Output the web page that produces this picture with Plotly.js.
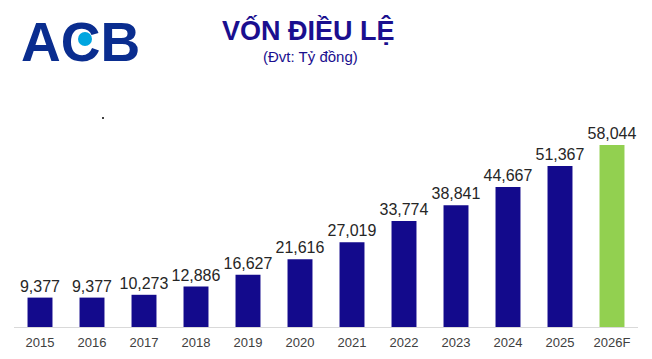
<!DOCTYPE html>
<html><head><meta charset="utf-8">
<script src="https://cdn.plot.ly/plotly-3.0.1.min.js"></script>
<style>html,body{margin:0;padding:0;background:#fff}#c{width:652px;height:359px}</style>
</head><body><div id="c"></div>
<script>
const years = ["2015","2016","2017","2018","2019","2020","2021","2022","2023","2024","2025","2026F"];
const capital = [9377,9377,10273,12886,16627,21616,27019,33774,38841,44667,51367,58044];
const barColors = ["#130a8c","#130a8c","#130a8c","#130a8c","#130a8c","#130a8c","#130a8c","#130a8c","#130a8c","#130a8c","#130a8c","#92d050"];
const labels = capital.map(v => v.toLocaleString("en-US"));

const trace = {
  type: "bar", x: years, y: capital,
  marker: {color: barColors},
  text: labels, textposition: "outside", cliponaxis: false, constraintext: "none",
  textfont: {family: "Liberation Sans, Arial, sans-serif", size: 16, color: "#262626"},
  hoverinfo: "none"
};
const py = v => (359 - v - 32) / 227;
const px = v => (v - 14) / 624;
const layout = {
  width: 652, height: 359,
  margin: {l: 14, r: 14, t: 100, b: 32},
  paper_bgcolor: "#fff", plot_bgcolor: "#fff",
  bargap: 0.52, showlegend: false,
  xaxis: {type: "category", showline: true, linecolor: "#d9d9d9", linewidth: 1, ticks: "",
    ticklabelstandoff: 3,
    tickfont: {family: "Liberation Sans, Arial, sans-serif", size: 13, color: "#404040"}, fixedrange: true},
  yaxis: {range: [0, 72400], visible: false, showgrid: false, zeroline: false, fixedrange: true},
  annotations: [
    {xref: "paper", yref: "paper", x: px(308), y: py(30), xanchor: "center", yanchor: "middle",
     text: "<b>VỐN ĐIỀU LỆ</b>", showarrow: false,
     font: {family: "Liberation Sans, Arial, sans-serif", size: 27, color: "#1a0f8f"}},
    {xref: "paper", yref: "paper", x: px(310), y: py(56), xanchor: "center", yanchor: "middle",
     text: "(Đvt: Tỷ đồng)", showarrow: false,
     font: {family: "Liberation Sans, Arial, sans-serif", size: 15, color: "#1a0f8f"}},
    {xref: "paper", yref: "paper", x: px(80), y: py(42), xanchor: "center", yanchor: "middle",
     text: "<b>ACB</b>", showarrow: false,
     font: {family: "Liberation Sans, Arial, sans-serif", size: 55, color: "#0a2d8f"}}
  ],
  shapes: [
    {type: "circle", xref: "paper", yref: "paper",
     x0: px(78), x1: px(92), y0: py(46), y1: py(32),
     fillcolor: "#00a6e0", line: {width: 0}},
    {type: "rect", xref: "paper", yref: "paper",
     x0: px(102), x1: px(104), y0: py(119), y1: py(117),
     fillcolor: "#404040", line: {width: 0}}
  ]
};
Plotly.newPlot("c", [trace], layout, {staticPlot: true, displayModeBar: false});
</script></body></html>
